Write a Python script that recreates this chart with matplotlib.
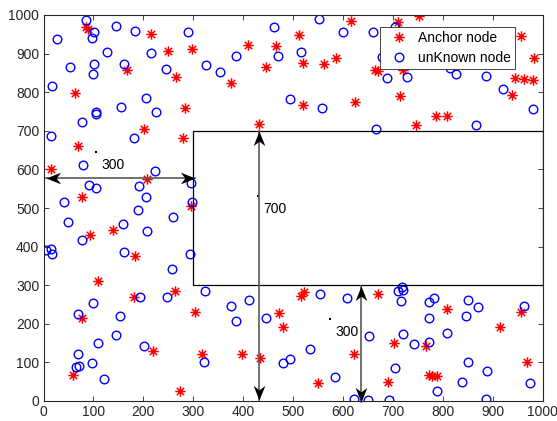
import numpy as np
import matplotlib
matplotlib.use("Agg")
import matplotlib.pyplot as plt
from matplotlib.path import Path
from matplotlib.markers import MarkerStyle
from matplotlib.transforms import Affine2D
from matplotlib.patches import Rectangle

plt.rcParams['font.family'] = ['Liberation Sans', 'DejaVu Sans']

# ---------- node positions ----------
anchor_x = [85, 90, 215, 250, 298, 167, 265, 64, 284, 202, 280,
            616, 512, 410, 465, 446, 521, 563, 587, 664, 671, 375, 520, 625, 431,
            711, 752, 957, 983, 721, 944, 962, 980, 939, 715, 787, 809, 747,
            69, 16, 208, 77, 296, 93, 139, 183,
            109, 264, 181, 77, 303, 219, 317, 59, 274,
            523, 517, 471, 479, 398, 434, 622, 551, 671,
            809, 957, 914, 702, 766, 968, 772, 778, 788, 690]
anchor_y = [968, 965, 950, 907, 912, 858, 839, 798, 758, 704, 681,
            984, 947, 923, 920, 866, 875, 873, 888, 858, 855, 823, 766, 775, 717,
            982, 998, 946, 889, 857, 836, 834, 832, 792, 789, 738, 738, 715,
            661, 601, 574, 528, 506, 430, 443, 376,
            312, 284, 269, 214, 231, 130, 123, 67, 26,
            282, 273, 228, 191, 121, 111, 121, 46, 276,
            238, 231, 193, 150, 142, 101, 67, 66, 65, 48]

unknown_x = [86, 28, 102, 97, 145, 183, 290, 127, 215, 54, 102, 100, 162, 245, 325,
             18, 206, 156, 225, 106, 106, 77, 15, 181,
             461, 552, 600, 661, 354, 386, 469, 517, 494, 559, 666,
             704, 678, 688, 728, 826, 815, 886, 920, 980, 867,
             79, 224, 91, 106, 191, 296, 206, 42, 298, 189, 260, 50, 159, 77, 207,
             5, 15, 18, 161, 294, 258,
             323, 193, 247, 99, 70, 153, 145, 110, 201, 70, 97, 65, 72, 121, 322,
             412, 375, 386, 445, 555, 608, 652, 535, 479, 493, 584, 622, 651,
             719, 711, 720, 717, 772, 783, 851, 871, 772, 847, 963, 721, 809,
             742, 772, 851, 705, 888, 839, 975, 789, 693, 887]
unknown_y = [987, 938, 955, 941, 971, 959, 957, 903, 901, 865, 874, 847, 874, 860, 870,
             817, 785, 761, 750, 750, 743, 722, 687, 682,
             969, 990, 955, 955, 852, 893, 893, 904, 782, 758, 704,
             970, 890, 838, 840, 847, 862, 841, 809, 756, 714,
             612, 595, 560, 552, 558, 564, 528, 515, 516, 496, 476, 463, 458, 418, 440,
             391, 393, 382, 385, 380, 341,
             284, 269, 269, 255, 225, 220, 171, 149, 143, 123, 98, 87, 91, 57, 100,
             261, 246, 206, 214, 276, 266, 169, 136, 98, 108, 63, 6, 3,
             296, 286, 288, 260, 257, 266, 262, 244, 214, 220, 247, 174, 177,
             147, 152, 101, 85, 77, 50, 47, 26, 3, 4]

# empty region and distance annotations
region = (300, 300, 700, 400)          # x0, y0, width, height
arrows = [((5, 578), (303, 578)),
          ((432, 2), (432, 699)),
          ((637, -2), (637, 297))]
labels = [(117, 611, "300"), (440, 497, "700"), (584, 179, "300")]
dots = [(105, 645), (430, 531), (574, 212)]

# matlab style asterisk: four spokes through the centre
spokes = []
codes = []
for a in (0, 45, 90, 135):
    t = np.deg2rad(a)
    spokes += [(-np.cos(t), -np.sin(t)), (np.cos(t), np.sin(t))]
    codes += [Path.MOVETO, Path.LINETO]
asterisk = Path(spokes, codes)

# concave arrow head, tip at the origin pointing along +x
head_path = Path([(0, 0), (-1, 0.4), (-0.7, 0), (-1, -0.4), (0, 0)],
                 [Path.MOVETO, Path.LINETO, Path.LINETO, Path.LINETO, Path.CLOSEPOLY])


def head(angle):
    return MarkerStyle(head_path, transform=Affine2D().rotate_deg(angle))


fig = plt.figure(figsize=(5.57, 4.21), dpi=100)
ax = fig.add_axes([43.5 / 557, 20 / 421, 499 / 557, 386 / 421])

ax.plot(anchor_x, anchor_y, linestyle='none', marker=asterisk, ms=7.5,
        mec=(1, 0, 0), mew=1.1, label='Anchor node')
ax.plot(unknown_x, unknown_y, linestyle='none', marker='o', ms=6.2,
        mfc='none', mec=(0, 0, 1), mew=1.0, label='unKnown node')

ax.add_patch(Rectangle(region[:2], region[2], region[3], fill=False,
                       ec='k', lw=0.9, zorder=3))

for (x0, y0), (x1, y1) in arrows:
    ang = np.degrees(np.arctan2(y1 - y0, x1 - x0))
    ax.plot([x0, x1], [y0, y1], color='0.35', lw=1.2, zorder=4, clip_on=False)
    ax.plot(x1, y1, marker=head(ang), ms=21, color='k', mew=0, zorder=5, clip_on=False)
    ax.plot(x0, y0, marker=head(ang + 180), ms=21, color='k', mew=0, zorder=5, clip_on=False)

for x, y, s in labels:
    ax.text(x, y, s, fontsize=10, ha='left', va='center', color='k')
for x, y in dots:
    ax.plot(x, y, marker='s', ms=1.6, color='k', mew=0)

ax.set_xlim(0, 1000)
ax.set_ylim(0, 1000)
ax.set_xticks(np.arange(0, 1001, 100))
ax.set_yticks(np.arange(0, 1001, 100))
ax.tick_params(direction='in', top=True, right=True, length=3.6, width=0.6,
               labelsize=10, colors=(0.15, 0.15, 0.15), pad=3)
for sp in ax.spines.values():
    sp.set_color((0.15, 0.15, 0.15))
    sp.set_linewidth(0.8)

leg = ax.legend(loc='upper right', bbox_to_anchor=(0.945, 0.970), borderaxespad=0,
                fontsize=10, numpoints=1, frameon=True, fancybox=False,
                borderpad=0.3, handlelength=2.2, handletextpad=0.25, labelspacing=0.42)
leg.get_frame().set_edgecolor((0.15, 0.15, 0.15))
leg.get_frame().set_linewidth(0.6)
leg.get_frame().set_alpha(1)
leg.set_zorder(10)

fig.savefig("out.png", dpi=100)
